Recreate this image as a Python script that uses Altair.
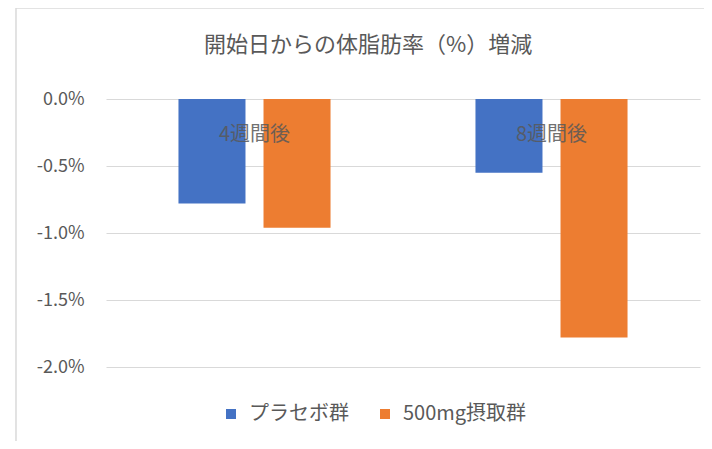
import altair as alt
import pandas as pd

periods = ["4週間後", "8週間後"]
groups = ["プラセボ群", "500mg摂取群"]
placebo = [-0.78, -0.55]
dose500 = [-0.96, -1.78]
y_ticks = [0.0, -0.5, -1.0, -1.5, -2.0]
colors = ["#4472C4", "#ED7D31"]
title_text = "開始日からの体脂肪率（%）増減"

rows = []
for i, p in enumerate(periods):
    rows.append({"period": p, "group": groups[0], "value": placebo[i]})
    rows.append({"period": p, "group": groups[1], "value": dose500[i]})
df = pd.DataFrame(rows)
lab = pd.DataFrame({"period": periods, "zero": [0.0] * len(periods)})

FONT = "Noto Sans CJK JP"
GRAY = "#595959"

xscale = alt.Scale(domain=periods, paddingInner=0.488, paddingOuter=0.244)
yscale = alt.Scale(domain=[-2.0, 0.0], nice=False, zero=False)

bars = alt.Chart(df).mark_bar().encode(
    x=alt.X("period:N", scale=xscale, axis=None, sort=periods),
    xOffset=alt.XOffset("group:N", sort=groups,
                        scale=alt.Scale(paddingInner=0.212, paddingOuter=0)),
    y=alt.Y("value:Q", scale=yscale,
            axis=alt.Axis(values=y_ticks, title=None, domain=False, ticks=False,
                          labelExpr="(datum.value < 0 ? '-' : '') + format(abs(datum.value), '.1f') + '%'",
                          labelPadding=22, labelFontSize=18, labelColor=GRAY,
                          labelFont=FONT, grid=True, gridColor="#d9d9d9")),
    y2=alt.datum(0),
    color=alt.Color("group:N", sort=groups,
                    scale=alt.Scale(domain=groups, range=colors),
                    legend=alt.Legend(title=None, orient="none", direction="horizontal",
                                      legendX=115, legendY=305, symbolType="square",
                                      symbolSize=100, symbolStrokeWidth=0,
                                      labelFontSize=20, labelFont=FONT, labelColor=GRAY,
                                      labelOffset=8, columnPadding=26, labelLimit=300)),
)

labels = alt.Chart(lab).mark_text(dy=36, fontSize=20, font=FONT, color=GRAY,
                                  opacity=0.85).encode(
    x=alt.X("period:N", scale=xscale, sort=periods),
    y=alt.Y("zero:Q", scale=yscale),
    text="period:N",
)

border_left = alt.Chart(lab).mark_rule(color="#d9d9d9", strokeWidth=1).encode(
    x=alt.value(-90), y=alt.value(-91), y2=alt.value(360))
border_top = alt.Chart(lab).mark_rule(color="#d9d9d9", strokeWidth=1).encode(
    x=alt.value(-90), x2=alt.value(610), y=alt.value(-91))

chart = alt.layer(bars, labels, border_left, border_top).properties(
    width=594, height=268,
    title=alt.TitleParams(title_text, anchor="middle", dx=-35, offset=-49,
                          fontSize=22, font=FONT, fontWeight="normal", color=GRAY),
    autosize=alt.AutoSizeParams(type="none"),
    padding={"left": 98, "top": 91, "right": 4, "bottom": 74},
).configure_view(stroke=None)

chart.save("out.html", embed_options={"renderer": "svg", "actions": False})
